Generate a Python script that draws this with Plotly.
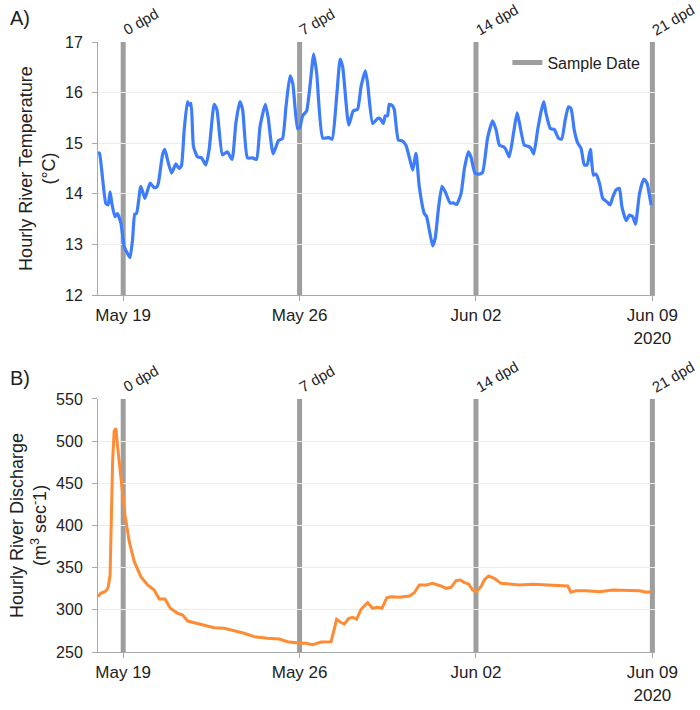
import pandas as pd
import plotly.graph_objects as go

# ---------------- data ----------------
start_date = "2020-05-18 00:00"

temp_days = [0.00, 0.06, 0.31, 0.40, 0.48, 0.55, 0.67, 0.77, 0.91, 1.04, 1.17, 1.27, 1.37, 1.46, 1.53,
             1.70, 1.86, 2.07, 2.23, 2.34, 2.40, 2.56, 2.65, 2.76, 2.92, 3.09, 3.22, 3.31, 3.42, 3.55,
             3.62, 3.69, 3.79, 3.95, 4.11, 4.28, 4.41, 4.61, 4.72, 4.94, 5.13, 5.32, 5.47, 5.63, 5.74,
             5.93, 6.13, 6.29, 6.43, 6.64, 6.75, 6.95, 7.16, 7.32, 7.46, 7.62, 7.73, 7.92, 8.01, 8.12,
             8.28, 8.41, 8.56, 8.68, 8.92, 9.16, 9.29, 9.47, 9.61, 9.71, 9.95, 10.13, 10.30, 10.44, 10.61,
             10.70, 10.90, 11.10, 11.19, 11.32, 11.40, 11.49, 11.56, 11.69, 11.76, 11.92, 12.06, 12.22,
             12.38, 12.49, 12.62, 12.75, 12.95, 13.04, 13.15, 13.28, 13.38, 13.52, 13.65, 13.78, 13.97,
             14.10, 14.23, 14.41, 14.54, 14.70, 14.80, 14.96, 15.13, 15.26, 15.46, 15.66, 15.80, 15.93,
             16.10, 16.19, 16.32, 16.49, 16.63, 16.72, 16.92, 17.07, 17.18, 17.29, 17.45, 17.58, 17.69,
             17.78, 17.95, 18.11, 18.27, 18.40, 18.54, 18.67, 18.77, 18.90, 19.04, 19.17, 19.30, 19.41,
             19.54, 19.66, 19.76, 19.90, 20.03, 20.20, 20.32, 20.43, 20.56, 20.69, 20.79, 20.96, 21.09,
             21.22, 21.33, 21.49, 21.66, 21.78, 21.95]
temp_vals = [14.82, 14.80, 13.81, 13.78, 14.04, 13.81, 13.55, 13.61, 13.42, 12.96, 12.82, 12.74, 13.09, 13.60, 13.61,
             14.15, 13.91, 14.21, 14.12, 14.14, 14.22, 14.77, 14.88, 14.67, 14.41, 14.59, 14.50, 14.55, 15.26, 15.82,
             15.75, 15.79, 14.93, 14.73, 14.71, 14.57, 14.87, 15.77, 15.66, 14.77, 14.83, 14.68, 15.39, 15.82, 15.66,
             14.71, 14.71, 14.68, 15.33, 15.77, 15.52, 14.79, 15.05, 15.09, 15.72, 16.33, 16.18, 15.29, 15.31, 15.54,
             15.64, 16.12, 16.76, 16.38, 15.10, 15.11, 15.08, 15.92, 16.66, 16.51, 15.36, 15.64, 15.67, 16.12, 16.43,
             16.18, 15.39, 15.49, 15.49, 15.39, 15.54, 15.54, 15.77, 15.74, 15.66, 15.06, 15.05, 14.96,
             14.67, 14.47, 14.80, 14.14, 13.61, 13.55, 13.28, 12.97, 13.12, 13.75, 14.15, 14.04, 13.82,
             13.82, 13.79, 14.01, 14.50, 14.83, 14.73, 14.41, 14.39, 14.42, 15.10, 15.44, 15.26, 14.96,
             14.93, 14.87, 14.73, 15.20, 15.60, 15.41, 14.96, 14.94, 14.90, 14.79, 15.27, 15.62, 15.82,
             15.59, 15.29, 15.27, 15.10, 15.08, 15.46, 15.72, 15.69, 15.26, 15.00, 14.90, 14.57, 14.57,
             14.88, 14.37, 14.39, 14.21, 13.91, 13.84, 13.78, 13.94, 14.08, 14.11, 13.75, 13.47, 13.58,
             13.55, 13.40, 14.01, 14.29, 14.22, 13.78]

flow_days = [0.00, 0.11, 0.31, 0.40, 0.48, 0.58, 0.64, 0.71, 0.77, 0.91, 1.07, 1.24, 1.44, 1.70, 1.97,
             2.23, 2.43, 2.66, 2.87, 3.16, 3.36, 3.56, 3.82, 4.22, 4.61, 5.01, 5.41, 5.80, 6.20, 6.73,
             7.19, 7.52, 8.05, 8.25, 8.52, 8.85, 9.25, 9.34, 9.47, 9.65, 9.78, 9.95, 10.11, 10.26, 10.44,
             10.70, 10.90, 11.10, 11.27, 11.46, 11.63, 11.96, 12.36, 12.55, 12.75, 13.02, 13.28, 13.61,
             13.81, 14.01, 14.21, 14.38, 14.54, 14.71, 14.87, 15.00, 15.20, 15.33, 15.50, 15.73, 15.99,
             16.32, 16.72, 17.25, 17.78, 18.31, 18.64, 18.77, 18.97, 19.37, 19.90, 20.43, 20.96, 21.49,
             21.76, 21.95]
flow_vals = [315.6, 319.6, 322.3, 326.2, 341.3, 475.7, 511.2, 515.3, 495.5, 456.0, 412.4, 380.8, 357.1, 339.3, 329.4,
             323.5, 312.8, 312.8, 301.8, 295.9, 293.9, 286.7, 284.7, 282.0, 278.8, 278.1, 275.3, 272.2, 268.2, 266.2,
             265.4, 262.2, 260.3, 260.3, 258.6, 261.8, 262.2, 274.1, 288.8, 284.8, 283.3, 290.0, 291.2, 288.8, 300.7,
             308.5, 301.8, 303.0, 301.8, 314.4, 315.6, 314.8, 316.4, 320.3, 329.4, 329.4, 331.4, 328.3,
             325.5, 326.7, 334.6, 335.4, 332.3, 330.7, 323.5, 321.5, 327.5, 335.4, 340.1, 337.4, 331.4,
             330.7, 329.4, 330.2, 329.4, 329.0, 328.3, 320.8, 322.7, 322.7, 321.5, 323.5, 323.5, 322.7,
             320.8, 321.5]

sample_dates = ["2020-05-19", "2020-05-26", "2020-06-02", "2020-06-09"]
sample_labels = ["0 dpd", "7 dpd", "14 dpd", "21 dpd"]
tick_vals = ["2020-05-19", "2020-05-26", "2020-06-02", "2020-06-09"]
tick_text = ["May 19", "May 26", "Jun 02", "Jun 09<br>2020"]
x_range = ["2020-05-18 00:00", "2020-06-09 02:30"]

t0 = pd.Timestamp(start_date)
temp_time = [(t0 + pd.Timedelta(days=d)).round("min").strftime("%Y-%m-%d %H:%M") for d in temp_days]
flow_time = [(t0 + pd.Timedelta(days=d)).round("min").strftime("%Y-%m-%d %H:%M") for d in flow_days]

# ---------------- styling ----------------
FONT = "Liberation Sans, Arial, Helvetica, sans-serif"
TXT = "#222222"
BLUE = "#3d7cfb"
ORANGE = "#fd8c35"
GRAY = "#9e9e9e"
AXLINE = "#a8a8a8"
GRID = "#ececec"

fig = go.Figure()
fig.add_trace(go.Scatter(x=temp_time, y=temp_vals, mode="lines",
                         line=dict(color=BLUE, width=3.2, shape="spline", smoothing=0.5),
                         showlegend=False, xaxis="x", yaxis="y"))
fig.add_trace(go.Scatter(x=flow_time, y=flow_vals, mode="lines",
                         line=dict(color=ORANGE, width=3), showlegend=False,
                         xaxis="x2", yaxis="y2"))
fig.add_trace(go.Scatter(x=[None], y=[None], mode="lines", name="Sample Date",
                         line=dict(color=GRAY, width=5), xaxis="x", yaxis="y"))

shapes = []
annotations = []
for ax, yref in (("x", "y domain"), ("x2", "y2 domain")):
    for d, lab in zip(sample_dates, sample_labels):
        shapes.append(dict(type="line", xref=ax, yref=yref, x0=d, x1=d, y0=0, y1=1,
                           line=dict(color=GRAY, width=5), layer="below"))
        annotations.append(dict(x=d, y=1, xref=ax, yref=yref, text=lab, showarrow=False,
                                textangle=-30, xanchor="left", yanchor="bottom",
                                xshift=-6, yshift=1,
                                font=dict(size=15, color=TXT, family=FONT)))

annotations.append(dict(x=-0.162, y=1.039, xref="paper", yref="paper", text="A)",
                        showarrow=False, xanchor="left", yanchor="middle",
                        font=dict(size=20, color=TXT, family=FONT)))
annotations.append(dict(x=-0.162, y=0.449, xref="paper", yref="paper", text="B)",
                        showarrow=False, xanchor="left", yanchor="middle",
                        font=dict(size=20, color=TXT, family=FONT)))

xcommon = dict(type="date", range=x_range, tickvals=tick_vals, ticktext=tick_text,
               showgrid=False, showline=True, linecolor=AXLINE, linewidth=1,
               ticks="outside", ticklen=5, tickcolor=AXLINE, zeroline=False,
               automargin=False,
               tickfont=dict(size=17, color=TXT, family=FONT))
ycommon = dict(showgrid=True, gridcolor=GRID, gridwidth=1, showline=True,
               linecolor=AXLINE, linewidth=1, ticks="outside", ticklen=5,
               tickcolor=AXLINE, zeroline=False, ticklabelstandoff=6,
               automargin=False,
               tickfont=dict(size=16, color=TXT, family=FONT))

fig.update_layout(
    width=700, height=710,
    margin=dict(l=98, r=45, t=42, b=58),
    paper_bgcolor="white", plot_bgcolor="rgba(0,0,0,0)",
    font=dict(family=FONT, color=TXT),
    xaxis=dict(domain=[0, 1], anchor="y", **xcommon),
    xaxis2=dict(domain=[0, 1], anchor="y2", **xcommon),
    yaxis=dict(domain=[0.5852, 1], anchor="x", range=[12, 17], dtick=1,
               title=dict(text="Hourly River Temperature<br>(°C)", standoff=4,
                          font=dict(size=18, color=TXT, family=FONT)),
               **ycommon),
    yaxis2=dict(domain=[0, 0.4148], anchor="x2", range=[250, 550], dtick=50,
                title=dict(text="Hourly River Discharge<br>(m<sup>3</sup> sec<sup>-</sup>1)", standoff=4,
                           font=dict(size=18, color=TXT, family=FONT)),
                **ycommon),
    showlegend=True,
    legend=dict(x=0.735, y=0.994, xanchor="left", yanchor="top",
                bgcolor="rgba(0,0,0,0)", font=dict(size=16, color=TXT, family=FONT)),
    shapes=shapes,
    annotations=annotations,
)

fig.write_html("out.html")
